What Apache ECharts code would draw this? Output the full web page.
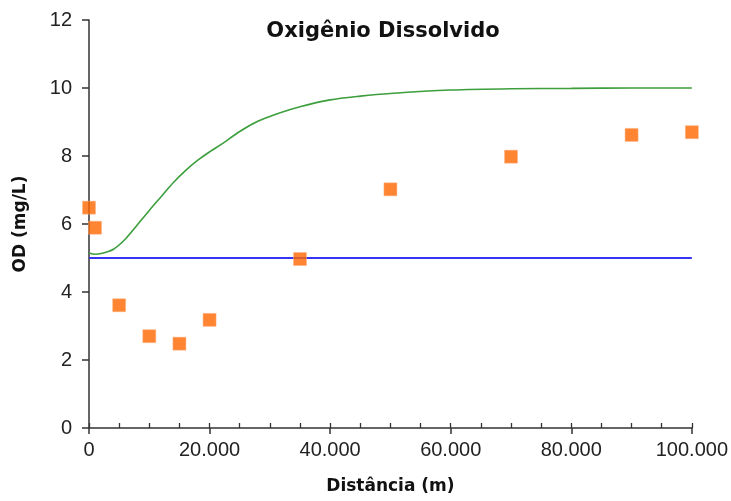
<!DOCTYPE html>
<html>
<head>
<meta charset="utf-8">
<script src="https://cdn.jsdelivr.net/npm/echarts@6/dist/echarts.min.js"></script>
<style>html,body{margin:0;padding:0;background:#fff;}#c{width:731px;height:501px;}</style>
</head>
<body>
<div id="c"></div>
<script>
// Observed data (orange squares)
const obsX = [0, 1000, 5000, 10000, 15000, 20000, 35000, 50000, 70000, 90000, 100000];
const obsY = [6.48, 5.89, 3.61, 2.70, 2.48, 3.18, 4.97, 7.02, 7.98, 8.62, 8.70];
// Model curve (green)
const modelX = [0, 1000, 2000, 4000, 6000, 8000, 10000, 12000, 14000, 16000, 18000, 20000, 22000, 25000, 28000, 31000, 35000, 40000, 45000, 50000, 60000, 70000, 80000, 90000, 100000];
const modelY = [5.15, 5.11, 5.13, 5.25, 5.55, 5.97, 6.40, 6.81, 7.22, 7.57, 7.87, 8.12, 8.35, 8.72, 9.02, 9.23, 9.45, 9.65, 9.76, 9.84, 9.94, 9.98, 9.99, 10.0, 10.0];
// Standard (blue line)
const stdX = [0, 100000];
const stdY = [5.0, 5.0];
const yTicks = [0, 2, 4, 6, 8, 10, 12];
const xTicks = [0, 20000, 40000, 60000, 80000, 100000];

const zip = (a, b) => a.map((v, i) => [v, b[i]]);
const fmt = v => v === 0 ? '0' : String(v).replace(/\B(?=(\d{3})+(?!\d))/g, '.');
const txt = '#222';
const font = 'Liberation Sans, Arial, sans-serif';
const bfont = 'DejaVu Sans, Verdana, sans-serif';

const chart = echarts.init(document.getElementById('c'), null, {renderer: 'canvas'});
chart.setOption({
  backgroundColor: '#fff',
  animation: false,
  title: {
    text: 'Oxigênio Dissolvido',
    left: 378, top: 16, textAlign: 'center',
    textStyle: {fontFamily: bfont, fontSize: 21, fontWeight: 'bold', color: '#111'}
  },
  grid: {left: 89, right: 39, top: 20, bottom: 73},
  xAxis: [{
    type: 'value', min: xTicks[0], max: xTicks[xTicks.length - 1], interval: 20000,
    name: 'Distância (m)', nameLocation: 'middle', nameGap: 50,
    nameTextStyle: {fontFamily: bfont, fontSize: 17, fontWeight: 'bold', color: '#111'},
    axisLine: {show: true, lineStyle: {color: '#333', width: 1.5}},
    axisTick: {show: true, length: 6, lineStyle: {color: '#333', width: 1.5}},
    axisLabel: {formatter: fmt, fontFamily: font, fontSize: 20, color: txt, margin: 12},
    splitLine: {show: false}
  }, {
    type: 'value', min: 0, max: 100000, interval: 5000, position: 'bottom',
    axisLine: {show: false},
    axisTick: {show: true, inside: true, length: 5, lineStyle: {color: '#333', width: 1.3}},
    axisLabel: {show: false},
    splitLine: {show: false}
  }],
  yAxis: {
    type: 'value', min: yTicks[0], max: yTicks[yTicks.length - 1], interval: 2,
    name: 'OD (mg/L)', nameLocation: 'middle', nameGap: 60, nameRotate: 90,
    nameTextStyle: {fontFamily: bfont, fontSize: 17, fontWeight: 'bold', color: '#111'},
    axisLine: {show: true, lineStyle: {color: '#333', width: 1.5}},
    axisTick: {show: true, length: 7, lineStyle: {color: '#333', width: 1.5}},
    axisLabel: {fontFamily: font, fontSize: 20, color: txt, margin: 17},
    splitLine: {show: false}
  },
  series: [{
    type: 'line', data: zip(stdX, stdY), showSymbol: false, symbol: 'none',
    lineStyle: {color: '#3535F5', width: 2}, z: 2
  }, {
    type: 'line', data: zip(modelX, modelY), showSymbol: false, symbol: 'none',
    smooth: 0.3,
    lineStyle: {color: '#3C9E3C', width: 1.6}, z: 3
  }, {
    type: 'scatter', data: zip(obsX, obsY), symbol: 'rect', symbolSize: 13,
    itemStyle: {color: '#FF6600', borderColor: '#FFB080', borderWidth: 0.6}, z: 4
  }]
});
</script>
</body>
</html>
